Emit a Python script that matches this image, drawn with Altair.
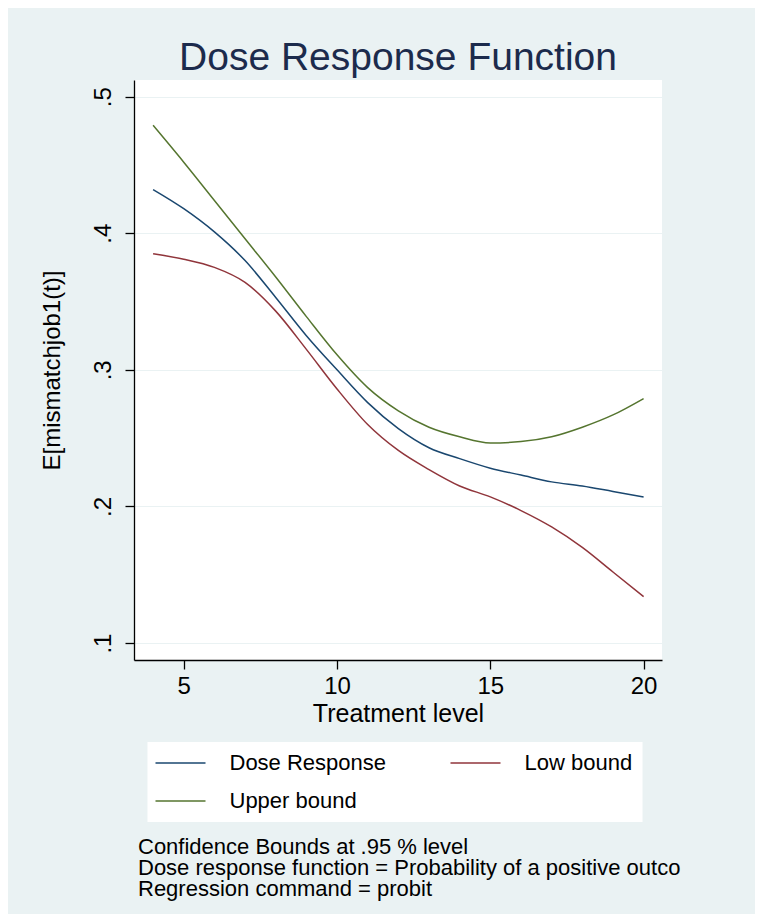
import altair as alt
import pandas as pd

# ---- data ----
treatment = [4, 5, 6, 7, 8, 9, 10, 11, 12, 13, 14, 15, 16, 17, 18, 19, 20]
dose_response = [0.432, 0.418, 0.401, 0.380, 0.353, 0.325, 0.300, 0.276, 0.257,
                 0.243, 0.235, 0.228, 0.223, 0.218, 0.215, 0.211, 0.207]
low_bound = [0.385, 0.381, 0.375, 0.364, 0.343, 0.315, 0.286, 0.260, 0.241,
             0.227, 0.215, 0.207, 0.197, 0.185, 0.170, 0.152, 0.134]
upper_bound = [0.479, 0.452, 0.424, 0.396, 0.368, 0.339, 0.311, 0.287, 0.270,
               0.258, 0.251, 0.2465, 0.2475, 0.251, 0.258, 0.267, 0.279]
# legend fills column by column: Dose Response, Upper bound | Low bound
series_names = ["Dose Response", "Upper bound", "Low bound"]
series_colors = ["#1a476f", "#55752f", "#90353b"]
x_ticks = [5, 10, 15, 20]
y_ticks = [0.1, 0.2, 0.3, 0.4, 0.5]
notes = [
    "Confidence Bounds at .95 % level",
    "Dose response function = Probability of a positive outco",
    "Regression command = probit",
]

series_values = {"Dose Response": dose_response, "Low bound": low_bound,
                 "Upper bound": upper_bound}
rows = []
for name in ["Dose Response", "Low bound", "Upper bound"]:
    for t, v in zip(treatment, series_values[name]):
        rows.append({"t": t, "v": v, "series": name})
df = pd.DataFrame(rows)

FONT = "Liberation Sans"
BG = "#EAF2F3"

lines = alt.Chart(df).mark_line(strokeWidth=1.5, interpolate="monotone").encode(
    x=alt.X("t:Q",
            scale=alt.Scale(domain=[3.377, 20.6], nice=False, zero=False),
            axis=alt.Axis(values=x_ticks, title="Treatment level", grid=False,
                          labelFontSize=24, titleFontSize=25, labelPadding=5,
                          tickSize=9, titleFontWeight="normal",
                          titleY=61, titleBaseline="alphabetic")),
    y=alt.Y("v:Q",
            scale=alt.Scale(domain=[0.0876, 0.5122], nice=False, zero=False),
            axis=alt.Axis(values=y_ticks, title="E[mismatchjob1(t)]",
                          labelExpr="replace(format(datum.value, '.1f'), '0.', '.')",
                          labelAngle=270, labelAlign="center", labelBaseline="alphabetic",
                          labelPadding=15, labelFontSize=24, tickSize=9,
                          grid=True, gridColor=BG, gridWidth=1.2,
                          titleFontSize=24, titleFontWeight="normal",
                          titleAngle=270, titleX=-82, titleY=290,
                          titleAlign="center", titleBaseline="middle")),
    color=alt.Color("series:N",
                    scale=alt.Scale(domain=series_names, range=series_colors),
                    legend=alt.Legend(title=None, orient="none", legendX=13.5, legendY=662,
                                      columns=2, columnPadding=61, rowPadding=16,
                                      fillColor="white", padding=10,
                                      symbolType="M-2.6,0H7.4", symbolSize=100,
                                      symbolStrokeWidth=1.5, labelFontSize=22,
                                      labelOffset=50, labelFont=FONT,
                                      labelColor="black")),
)

note_text = alt.Chart(pd.DataFrame({"k": [0]})).mark_text(
    align="left", baseline="alphabetic", fontSize=22, font=FONT,
    lineHeight=21, color="black"
).encode(x=alt.value(4), y=alt.value(773.5), text=alt.value(notes))

chart = alt.layer(lines, note_text).properties(
    width=528, height=580,
    title=alt.TitleParams(text="Dose Response Function", fontSize=39, font=FONT,
                          fontWeight="normal", color="#1C2B4C", anchor="middle",
                          baseline="bottom", offset=5, dy=42),
    background=BG,
    autosize=alt.AutoSizeParams(type="none"),
    padding={"left": 126, "top": 72, "right": 93, "bottom": 254},
).configure_view(fill="white", stroke=None).configure_axis(
    labelFont=FONT, titleFont=FONT, labelColor="black", titleColor="black",
    domainColor="black", tickColor="black", domainWidth=1.3, tickWidth=1.3
)

chart.save("out.html", embed_options={"renderer": "svg", "actions": False})
